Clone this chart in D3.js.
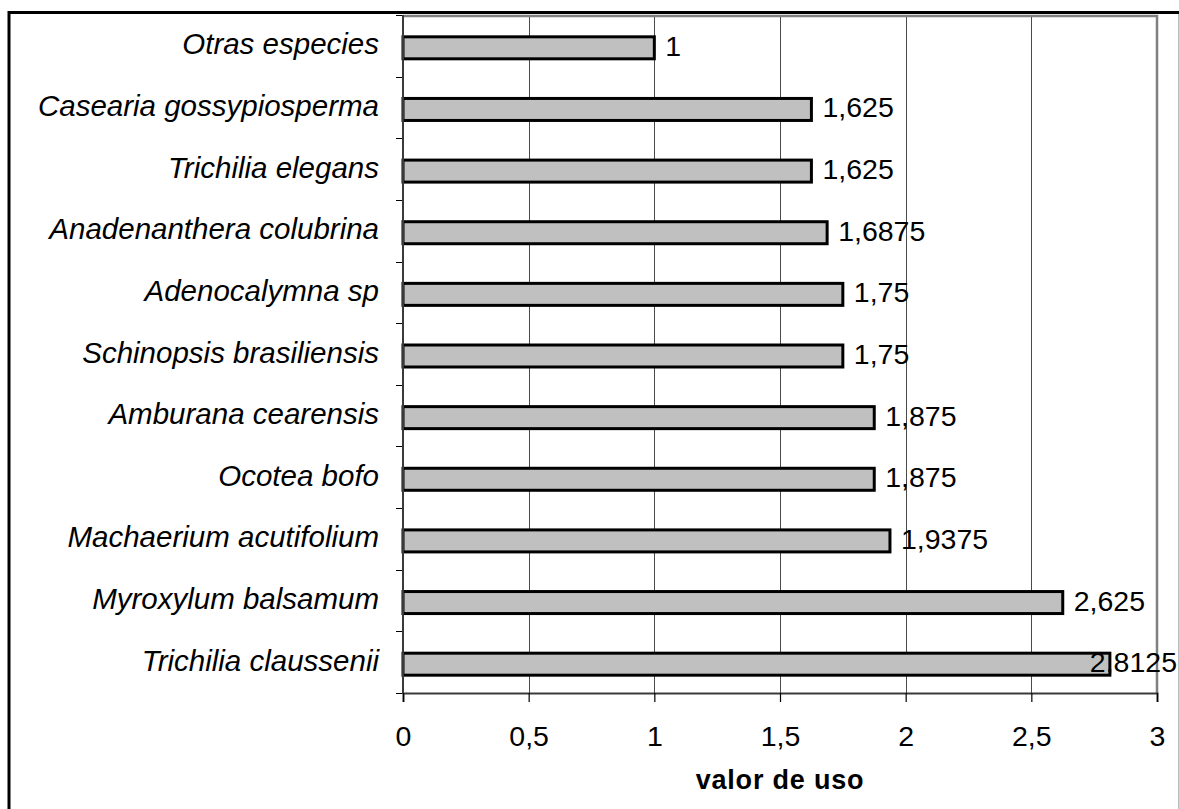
<!DOCTYPE html>
<html>
<head>
<meta charset="utf-8">
<script src="https://cdn.jsdelivr.net/npm/d3@7"></script>
<style>
  html, body { margin: 0; padding: 0; background: #fff; }
  svg { display: block; font-family: "Liberation Sans", Arial, sans-serif; }
</style>
</head>
<body>
<svg id="chart" width="1179" height="809"></svg>
<script>
// Species, listed top to bottom
const species = [
  "Otras especies",
  "Casearia gossypiosperma",
  "Trichilia elegans",
  "Anadenanthera colubrina",
  "Adenocalymna sp",
  "Schinopsis brasiliensis",
  "Amburana cearensis",
  "Ocotea bofo",
  "Machaerium acutifolium",
  "Myroxylum balsamum",
  "Trichilia claussenii"
];
// Use value per species
const useValues = [1, 1.625, 1.625, 1.6875, 1.75, 1.75, 1.875, 1.875, 1.9375, 2.625, 2.8125];
// X axis ticks and their labels (decimal comma)
const xTicks = [0, 0.5, 1, 1.5, 2, 2.5, 3];
const xTickLabels = ["0", "0,5", "1", "1,5", "2", "2,5", "3"];
const axisTitle = "valor de uso";

const svg = d3.select("#chart");
const W = 1179, H = 809;
const plot = { left: 403, right: 1157, top: 15, bottom: 693 };

const x = d3.scaleLinear().domain([0, 3]).range([plot.left, plot.right]);
const y = d3.scaleBand().domain(species).range([plot.top, plot.bottom]).padding(0);
const barH = 22;

// Outer chart frame
svg.append("line").attr("x1", 8).attr("x2", W).attr("y1", 12.5).attr("y2", 12.5)
  .attr("stroke", "#000").attr("stroke-width", 3);
svg.append("line").attr("x1", 9).attr("x2", 9).attr("y1", 11).attr("y2", H)
  .attr("stroke", "#000").attr("stroke-width", 3);
svg.append("line").attr("x1", 1178.5).attr("x2", 1178.5).attr("y1", 14).attr("y2", H)
  .attr("stroke", "#bdbdbd").attr("stroke-width", 1);

// Vertical gridlines
svg.append("g").selectAll("line")
  .data(xTicks.filter(t => t > 0 && t < 3))
  .join("line")
  .attr("x1", d => Math.round(x(d)) + 0.5).attr("x2", d => Math.round(x(d)) + 0.5)
  .attr("y1", plot.top).attr("y2", plot.bottom)
  .attr("stroke", "#4a4a4a").attr("stroke-width", 1);

// Plot area border (top and right)
svg.append("path")
  .attr("d", `M${plot.left},${plot.top + 1}H${plot.right}V${plot.bottom}`)
  .attr("fill", "none").attr("stroke", "#808080").attr("stroke-width", 2.5);

// Bars
svg.append("g").selectAll("rect")
  .data(species)
  .join("rect")
  .attr("x", x(0))
  .attr("y", (d) => y(d) + (y.bandwidth() - barH) / 2 + 2)
  .attr("width", (d, i) => x(useValues[i]) - x(0))
  .attr("height", barH)
  .attr("fill", "#c0c0c0")
  .attr("stroke", "#000")
  .attr("stroke-width", 3);

// Category tick marks on the left edge, at band boundaries
const bounds = species.map(s => y(s)).concat([plot.bottom]);
svg.append("g").selectAll("line").data(bounds).join("line")
  .attr("x1", plot.left - 7).attr("x2", plot.left)
  .attr("y1", d => Math.round(d) + 0.5).attr("y2", d => Math.round(d) + 0.5)
  .attr("stroke", "#000").attr("stroke-width", 1);
svg.append("line")
  .attr("x1", plot.left).attr("x2", plot.left)
  .attr("y1", plot.top).attr("y2", plot.bottom + 1)
  .attr("stroke", "#3a3a3a").attr("stroke-width", 2);

// X axis
const xAxis = d3.axisBottom(x).tickValues(xTicks).tickSize(9)
  .tickFormat((d, i) => xTickLabels[i]);
const gx = svg.append("g").attr("transform", `translate(0,${plot.bottom})`).call(xAxis);
gx.select(".domain").attr("stroke", "#3a3a3a").attr("stroke-width", 2);
gx.selectAll(".tick line").attr("stroke", "#000").attr("stroke-width", 1.2);
gx.selectAll(".tick text")
  .attr("y", 53).attr("dy", null)
  .attr("font-size", 28.5).attr("fill", "#000")
  .attr("font-family", "'Liberation Sans', Arial, sans-serif");

// Category labels
svg.append("g").selectAll("text")
  .data(species)
  .join("text")
  .attr("x", 379)
  .attr("y", d => y(d) + y.bandwidth() / 2 + 8.5)
  .attr("text-anchor", "end")
  .attr("font-size", 29.5)
  .attr("font-style", "italic")
  .attr("fill", "#000")
  .text(d => d);

// Value labels, kept inside the chart's right edge
svg.append("g").selectAll("text")
  .data(species)
  .join("text")
  .attr("y", d => y(d) + y.bandwidth() / 2 + 10)
  .attr("font-size", 28.5)
  .attr("fill", "#000")
  .text((d, i) => String(useValues[i]).replace(".", ","))
  .attr("x", function (d, i) {
    const w = this.getComputedTextLength();
    return Math.min(x(useValues[i]) + 11, 1177 - w);
  });

// Axis title
svg.append("text")
  .attr("x", (plot.left + plot.right) / 2)
  .attr("y", 789)
  .attr("text-anchor", "middle")
  .attr("font-size", 27)
  .attr("font-weight", "bold")
  .attr("letter-spacing", 0.8)
  .attr("fill", "#000")
  .text(axisTitle);
</script>
</body>
</html>
